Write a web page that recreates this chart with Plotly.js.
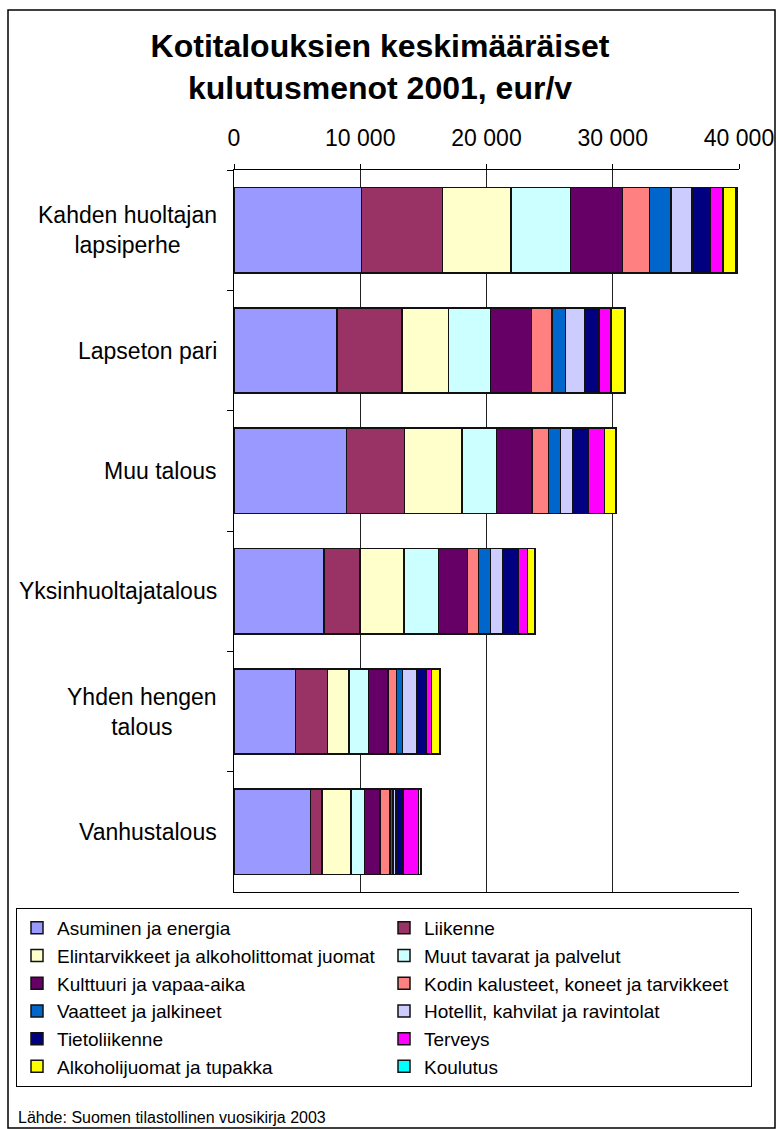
<!DOCTYPE html>
<html>
<head>
<meta charset="utf-8">
<script src="https://cdn.plot.ly/plotly-3.0.1.min.js"></script>
<style>html,body{margin:0;padding:0;background:#fff;}#chart{width:776px;height:1129px;}</style>
</head>
<body>
<div id="chart"></div>
<script>
// Categories (top to bottom)
var categories = ["Kahden huoltajan<br>lapsiperhe", "Lapseton pari", "Muu talous", "Yksinhuoltajatalous", "Yhden hengen<br>talous", "Vanhustalous"];

// Series (eur/v)
var asuminen      = [10100, 8140, 8900, 7140, 4890, 6050];
var liikenne      = [6420, 5160, 4600, 2830, 2510, 925];
var elintarvikkeet= [5420, 3700, 4550, 3490, 1690, 2300];
var muut          = [4730, 3330, 2750, 2720, 1560, 1060];
var kulttuuri     = [4120, 3250, 2800, 2300, 1560, 1240];
var kodin         = [2120, 1610, 1300, 870, 660, 770];
var vaatteet      = [1690, 1080, 950, 980, 480, 240];
var hotellit      = [1660, 1510, 980, 925, 1140, 240];
var tietoliikenne = [1460, 1140, 1215, 1295, 770, 555];
var terveys       = [1000, 950, 1320, 715, 400, 1245];
var alkoholi      = [1060, 1080, 870, 530, 660, 160];
var koulutus      = [90, 40, 60, 60, 40, 30];

var seriesNames = ["Asuminen ja energia", "Liikenne", "Elintarvikkeet ja alkoholittomat juomat", "Muut tavarat ja palvelut",
  "Kulttuuri ja vapaa-aika", "Kodin kalusteet, koneet ja tarvikkeet", "Vaatteet ja jalkineet", "Hotellit, kahvilat ja ravintolat",
  "Tietoliikenne", "Terveys", "Alkoholijuomat ja tupakka", "Koulutus"];
var seriesValues = [asuminen, liikenne, elintarvikkeet, muut, kulttuuri, kodin, vaatteet, hotellit, tietoliikenne, terveys, alkoholi, koulutus];
var seriesColors = ["#9999FF", "#993366", "#FFFFCC", "#CCFFFF", "#660066", "#FF8080", "#0066CC", "#CCCCFF", "#000080", "#FF00FF", "#FFFF00", "#00FFFF"];

var xTickVals = [0, 10000, 20000, 30000, 40000];
var xTickText = ["0", "10 000", "20 000", "30 000", "40 000"];

var titleText = "<b>Kotitalouksien keskimääräiset<br>kulutusmenot 2001, eur/v</b>";
var sourceText = "Lähde: Suomen tilastollinen vuosikirja 2003";

var FONT = "Liberation Sans, Arial, sans-serif";
var W = 776, H = 1129;
var L = 234, R = 739, T = 170, B = 892;
var pw = R - L, ph = B - T;
function px2x(p) { return (p - L) / pw; }
function py2y(p) { return (B - p) / ph; }

var traces = seriesNames.map(function (n, i) {
  return {
    type: "bar", orientation: "h", name: n,
    x: seriesValues[i], y: categories,
    marker: { color: seriesColors[i], line: { color: "#111", width: 1.5 } },
    hoverinfo: "x+name"
  };
});

var annotations = categories.map(function (c) {
  return { xref: "paper", yref: "y", x: px2x(219), y: c, text: c, showarrow: false,
    xanchor: "right", yanchor: "middle", align: "center", font: { family: FONT, size: 23, color: "#000" } };
});
annotations.push({ xref: "paper", yref: "paper", x: px2x(16), y: py2y(1117), text: sourceText, showarrow: false,
  xanchor: "left", yanchor: "middle", font: { family: FONT, size: 16, color: "#000" } });

var layout = {
  width: W, height: H,
  margin: { l: L, r: W - R, t: T, b: H - B, pad: 0 },
  paper_bgcolor: "#fff", plot_bgcolor: "#fff",
  barmode: "stack", bargap: 0.29,
  separators: ", ",
  font: { family: FONT, color: "#000" },
  title: { text: titleText, font: { family: FONT, size: 32, color: "#000" },
    xref: "container", yref: "container", x: 380 / W, xanchor: "center", y: 1 - 57 / H, yanchor: "top" },
  xaxis: {
    side: "top", range: [0, 40000], tickvals: xTickVals, ticktext: xTickText,
    showgrid: true, gridcolor: "#222", gridwidth: 1, zeroline: false,
    showline: true, linecolor: "#000", linewidth: 1, mirror: true,
    ticks: "outside", ticklen: 5, tickcolor: "#000",
    tickfont: { family: FONT, size: 23, color: "#000" }, ticklabelstandoff: 9,
    fixedrange: true
  },
  yaxis: {
    type: "category", categoryorder: "array", categoryarray: categories, autorange: "reversed",
    showticklabels: false, showgrid: false, zeroline: false,
    showline: true, linecolor: "#000", linewidth: 1,
    ticks: "outside", ticklen: 6, tickcolor: "#000", tickson: "boundaries",
    fixedrange: true
  },
  legend: {
    orientation: "h", xref: "paper", yref: "paper",
    x: px2x(16), xanchor: "left", y: py2y(908), yanchor: "top",
    entrywidth: 322, entrywidthmode: "pixels", traceorder: "normal",
    bordercolor: "#000", borderwidth: 1, bgcolor: "#fff",
    font: { family: FONT, size: 19, color: "#000" }, itemclick: false, itemdoubleclick: false
  },
  shapes: [{ type: "rect", xref: "paper", yref: "paper", x0: px2x(8), x1: px2x(775), y0: py2y(1128), y1: py2y(10),
    line: { color: "#000", width: 1.5 }, fillcolor: "rgba(0,0,0,0)", layer: "below" }],
  annotations: annotations,
  showlegend: true
};

Plotly.newPlot("chart", traces, layout, { displayModeBar: false, staticPlot: true });
</script>
</body>
</html>
